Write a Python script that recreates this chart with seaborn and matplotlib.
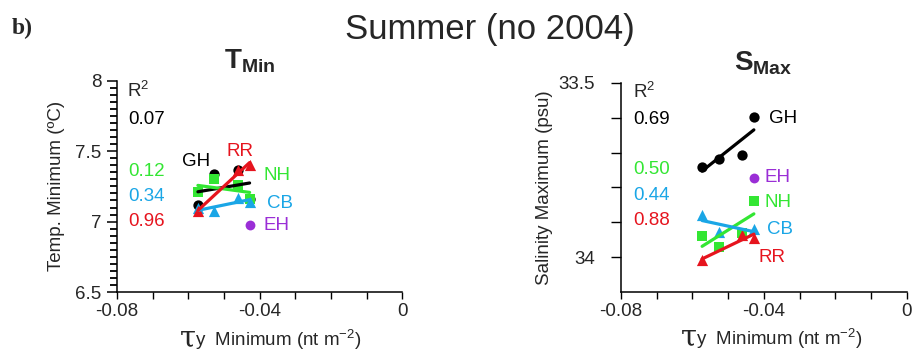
import numpy as np
import pandas as pd
import seaborn as sns
import matplotlib
matplotlib.use("Agg")
import matplotlib.pyplot as plt
from matplotlib.ticker import MultipleLocator, FixedLocator, FixedFormatter

sns.set_theme(style="ticks")
plt.rcParams["font.family"] = ["Liberation Sans", "DejaVu Sans"]
plt.rcParams["mathtext.fontset"] = "custom"
plt.rcParams["mathtext.rm"] = "Liberation Sans"
plt.rcParams["mathtext.bf"] = "Liberation Sans:bold"
plt.rcParams["mathtext.it"] = "Liberation Sans:italic"

# Minimum alongshore wind stress for each summer (nt m^-2)
tau_4 = [-0.0573, -0.0527, -0.0461, -0.0428]
tau_cb_s = [-0.0573, -0.0527, -0.0428]
tau_rr = [-0.0573, -0.0461, -0.0428]
tau_eh = [-0.0428]

stations = ["GH", "NH", "CB", "RR", "EH"]
colors = {"GH": "#000000", "NH": "#33E633", "CB": "#1AA6E6",
          "RR": "#E6141E", "EH": "#9A2ED6"}
markers = {"GH": "o", "NH": "s", "CB": "^", "RR": "^", "EH": "o"}
sizes = {"GH": 55, "NH": 50, "CB": 65, "RR": 65, "EH": 50}

# Temperature minimum (deg C)
tmin_gh = [7.117, 7.335, 7.365, 7.16]
tmin_nh = [7.207, 7.301, 7.259, 7.157]
tmin_cb = [7.093, 7.074, 7.171, 7.140]
tmin_rr = [7.074, 7.365, 7.401]
tmin_eh = [6.974]
tmin_r2 = ["0.07", "0.12", "0.34", "0.96"]

# Salinity maximum (psu)
smax_gh = [33.740, 33.719, 33.708, 33.598]
smax_nh = [33.940, 33.970, 33.932, 33.839]
smax_cb = [33.880, 33.927, 33.920]
smax_rr = [34.008, 33.937, 33.944]
smax_eh = [33.773]
smax_r2 = ["0.69", "0.50", "0.44", "0.88"]

tmin = {"GH": (tau_4, tmin_gh), "NH": (tau_4, tmin_nh), "CB": (tau_4, tmin_cb),
        "RR": (tau_rr, tmin_rr), "EH": (tau_eh, tmin_eh)}
smax = {"GH": (tau_4, smax_gh), "NH": (tau_4, smax_nh), "CB": (tau_cb_s, smax_cb),
        "RR": (tau_rr, smax_rr), "EH": (tau_eh, smax_eh)}

fig = plt.figure(figsize=(9.14, 3.51), dpi=100)
axT = fig.add_axes([0.128, 0.168, 0.312, 0.602])
axS = fig.add_axes([0.6795, 0.168, 0.3125, 0.596])


def draw_station(ax, name, x, y):
    df = pd.DataFrame({"tau": x, "val": y})
    sns.scatterplot(data=df, x="tau", y="val", ax=ax, marker=markers[name],
                    color=colors[name], s=sizes[name], linewidth=0, zorder=3)
    if len(x) > 1:
        sns.regplot(data=df, x="tau", y="val", ax=ax, scatter=False, ci=None,
                    truncate=True, color=colors[name],
                    line_kws={"lw": 2.3, "zorder": 4})


for name in ["GH", "NH", "CB", "RR", "EH"]:
    draw_station(axT, name, *tmin[name])
    draw_station(axS, name, *smax[name])

fs = 13.5
for ax, tau_pos in ((axT, 0.277), (axS, 0.267)):
    sns.despine(ax=ax)
    ax.spines["left"].set_linewidth(1.1)
    ax.spines["bottom"].set_linewidth(1.1)
    ax.spines["left"].set_color("black")
    ax.spines["bottom"].set_color("black")
    ax.set_xlim(-0.08, 0)
    ax.xaxis.set_major_locator(FixedLocator([-0.08, -0.04, 0]))
    ax.xaxis.set_major_formatter(FixedFormatter(["-0.08", "-0.04", "0"]))
    ax.xaxis.set_minor_locator(MultipleLocator(0.01))
    ax.tick_params(axis="x", which="both", direction="out", length=5,
                   width=1.0, color="black", labelsize=fs, pad=3)
    ax.set_xlabel("")
    ax.set_ylabel("")
    ax.text(tau_pos, -0.255, "τ", transform=ax.transAxes, fontsize=21,
            ha="right", va="baseline", family="DejaVu Serif")
    ax.text(tau_pos - 0.004, -0.255, r"y  Minimum (nt m$^{-2}$)",
            transform=ax.transAxes, fontsize=fs, ha="left", va="baseline")

# Temperature panel axes: labelled ticks every 0.5, short ticks every 0.05
axT.set_ylim(6.5, 8)
axT.yaxis.set_major_locator(FixedLocator([6.5, 7, 7.5, 8]))
axT.yaxis.set_major_formatter(FixedFormatter(["6.5", "7", "7.5", "8"]))
axT.yaxis.set_minor_locator(MultipleLocator(0.05))
axT.tick_params(axis="y", which="major", direction="out", length=7, width=1.1,
                color="black", labelsize=fs, pad=4, left=True)
axT.tick_params(axis="y", which="minor", direction="out", length=5, width=1.3,
                color="black", left=True)
axT.set_ylabel("Temp. Minimum (ºC)", fontsize=fs)
axT.yaxis.set_label_coords(-0.182, 0.5)

# Salinity panel axes (inverted)
axS.set_ylim(34.1, 33.5)
axS.yaxis.set_major_locator(FixedLocator([33.5, 34.0]))
axS.yaxis.set_major_formatter(FixedFormatter(["33.5", "34"]))
axS.yaxis.set_minor_locator(FixedLocator([33.6, 33.7, 33.8, 33.9]))
axS.tick_params(axis="y", which="both", direction="out", length=7, width=1.0,
                color="black", labelsize=fs, pad=12)
axS.set_ylabel("Salinity Maximum (psu)", fontsize=fs)
axS.yaxis.set_label_coords(-0.238, 0.5)

# R^2 columns
r2_colors = [colors["GH"], colors["NH"], colors["CB"], colors["RR"]]
axT.text(-0.0772, 7.927, r"R$^2$", fontsize=fs, va="center", ha="left")
for lbl, yy, c in zip(tmin_r2, [7.726, 7.358, 7.18, 6.998], r2_colors):
    axT.text(-0.0768, yy, lbl, fontsize=fs, color=c, va="center", ha="left")

axS.text(-0.0767, 33.526, r"R$^2$", fontsize=fs, va="center", ha="left")
for lbl, yy, c in zip(smax_r2, [33.604, 33.748, 33.823, 33.896], r2_colors):
    axS.text(-0.0767, yy, lbl, fontsize=fs, color=c, va="center", ha="left")

# Station names
for name, (xx, yy) in {"GH": (-0.0618, 7.424), "RR": (-0.0494, 7.495),
                       "NH": (-0.0390, 7.33), "CB": (-0.0380, 7.129),
                       "EH": (-0.0390, 6.97)}.items():
    axT.text(xx, yy, name, fontsize=fs, color=colors[name], va="center", ha="left")

for name, (xx, yy) in {"GH": (-0.0385, 33.601), "EH": (-0.0397, 33.771),
                       "NH": (-0.0397, 33.842), "CB": (-0.0392, 33.920),
                       "RR": (-0.0416, 34.0)}.items():
    axS.text(xx, yy, name, fontsize=fs, color=colors[name], va="center", ha="left")

# Titles
fig.text(0.273, 0.806, r"$\mathbf{T}_{\mathbf{Min}}$", fontsize=20, ha="center",
         va="baseline")
fig.text(0.835, 0.800, r"$\mathbf{S}_{\mathbf{Max}}$", fontsize=20, ha="center",
         va="baseline")
fig.text(0.536, 0.915, "Summer (no 2004)", fontsize=25, ha="center", va="center")
fig.text(0.013, 0.92, "b)", fontsize=17, fontweight="bold", ha="left",
         va="center", family="Liberation Serif")

fig.savefig("out.png", dpi=100, facecolor="white")
